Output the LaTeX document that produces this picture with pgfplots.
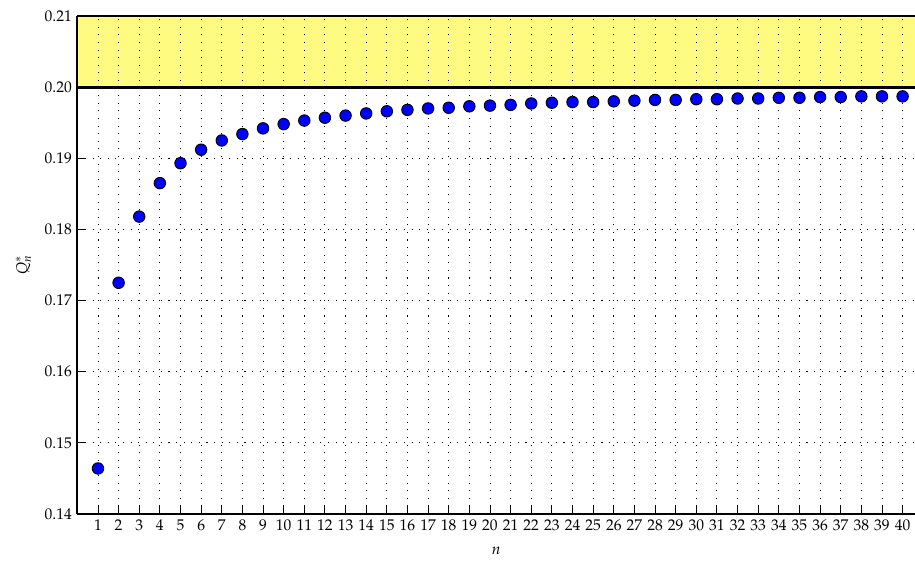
\documentclass[border=0pt]{standalone}
\usepackage{mathpazo}
\usepackage{pgfplots}
\pgfplotsset{compat=1.18}
\definecolor{bandyellow}{RGB}{255,250,128}

% Q_n^* for n = 1, ..., 40
\pgfplotstableread{
n   q
1   0.1464
2   0.1725
3   0.1818
4   0.1865
5   0.1893
6   0.1912
7   0.1925
8   0.1934
9   0.1942
10  0.1948
11  0.1953
12  0.1957
13  0.1960
14  0.1963
15  0.1966
16  0.1968
17  0.1970
18  0.1971
19  0.1973
20  0.1974
21  0.1975
22  0.1977
23  0.1978
24  0.1979
25  0.1979
26  0.1980
27  0.1981
28  0.1982
29  0.1982
30  0.1983
31  0.1983
32  0.1984
33  0.1984
34  0.1985
35  0.1985
36  0.1986
37  0.1986
38  0.1987
39  0.1987
40  0.1987
}\qdata

\begin{document}
\begin{tikzpicture}
\begin{axis}[
  name=ax,
  scale only axis,
  width=540.4pt, height=321.3pt,
  xmin=0, xmax=40.6,
  ymin=0.14, ymax=0.21,
  xtick={1,...,40},
  ytick={0.14,0.15,0.16,0.17,0.18,0.19,0.20,0.21},
  scaled y ticks=false,
  yticklabel style={/pgf/number format/fixed,
                    /pgf/number format/fixed zerofill,
                    /pgf/number format/precision=2},
  axis x line=box,
  axis y line=left,
  axis line style={-, line width=1.1pt, black},
  xtick pos=left, ytick pos=left,
  tick align=inside,
  major tick length=5.5pt,
  tick style={black, line width=0.6pt},
  grid=major,
  grid style={black, line width=0.6pt, dash pattern=on 0.7pt off 4.2pt},
  axis on top,
  xlabel={$n$},
  ylabel={$Q_n^*$},
  xlabel style={yshift=-3.5pt},
  ylabel style={yshift=2pt},
  clip=false,
]
  % feasible band above the bound
  \addplot[fill=bandyellow, draw=none, forget plot]
    coordinates {(0,0.20) (40.6,0.20) (40.6,0.21) (0,0.21)} -- cycle;
  % the bound itself
  \addplot[black, line width=2pt, forget plot]
    coordinates {(0,0.20) (40.6,0.20)};
  \addplot[only marks, mark=*, mark size=3.7pt,
           mark options={fill=blue, draw=black, line width=0.6pt}]
    table[x=n, y=q] {\qdata};
\end{axis}
\pgfresetboundingbox
\path ([shift={(-49.9pt,-30.3pt)}]ax.south west) rectangle ([shift={(0pt,10.3pt)}]ax.north east);
\end{tikzpicture}
\end{document}
